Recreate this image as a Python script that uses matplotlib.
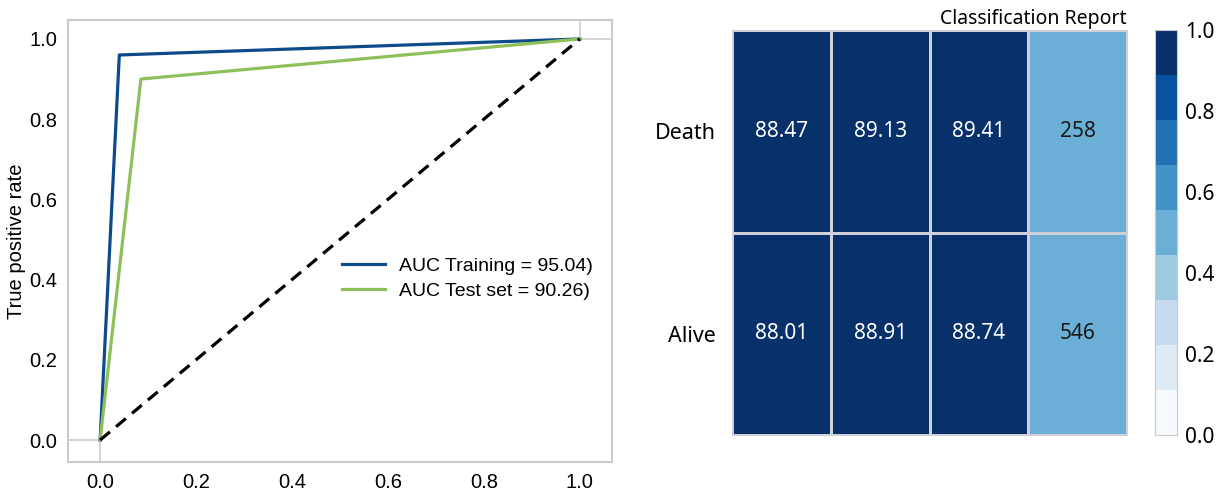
import numpy as np
import matplotlib
matplotlib.use("Agg")
import matplotlib.pyplot as plt

# ROC curves (false positive rate, true positive rate)
fpr_train = [0.0, 0.04, 1.0]
tpr_train = [0.0, 0.96, 1.0]
fpr_test = [0.0, 0.085, 1.0]
tpr_test = [0.0, 0.90, 1.0]
auc_train = 95.04
auc_test = 90.26

# Classification report
classes = ["Death", "Alive"]
scores = [["88.47", "89.13", "89.41", "258"],
          ["88.01", "88.91", "88.74", "546"]]
# colour level of each cell
levels = [[0.95, 0.95, 0.95, 0.50],
          [0.95, 0.95, 0.95, 0.50]]
cbar_ticks = [0.0, 0.2, 0.4, 0.6, 0.8, 1.0]

fig = plt.figure(figsize=(12.25, 4.9), dpi=100)

# ---- ROC panel ----
ax = fig.add_axes([0.0555, 0.057, 0.444, 0.902])
xlo, xhi = -0.067, 1.067
ylo, yhi = -0.055, 1.047
fx0 = (0 - xlo) / (xhi - xlo)
fx1 = (1 - xlo) / (xhi - xlo)
fy0 = (0 - ylo) / (yhi - ylo)
fy1 = (1 - ylo) / (yhi - ylo)
# short grid stubs at 0 and 1
ax.axvline(0, 0, fy0, color="#cccccc", lw=1.2, zorder=0)
ax.axhline(0, 0, fx0, color="#cccccc", lw=1.2, zorder=0)
ax.axvline(1, fy1, 1, color="#cccccc", lw=1.2, zorder=0)
ax.axhline(1, fx1, 1, color="#cccccc", lw=1.2, zorder=0)
ax.plot(fpr_train, tpr_train, color="#0d4a8a", lw=2.3,
        label=f"AUC Training = {auc_train:.2f})")
ax.plot(fpr_test, tpr_test, color="#8dc05b", lw=2.3,
        label=f"AUC Test set = {auc_test:.2f})")
ax.plot([0, 1], [0, 1], "k--", lw=2.3, dashes=(4, 2.5))
ax.set_xlim(xlo, xhi)
ax.set_ylim(ylo, yhi)
ax.set_xticks([0, 0.2, 0.4, 0.6, 0.8, 1.0])
ax.set_yticks([0, 0.2, 0.4, 0.6, 0.8, 1.0])
ax.tick_params(length=0, labelsize=14.5, pad=8)
for lab in ax.get_xticklabels() + ax.get_yticklabels():
    lab.set_family("Liberation Sans")
for s in ax.spines.values():
    s.set_color("#cccccc")
    s.set_linewidth(1.5)
ax.set_ylabel("True positive rate", fontsize=14.5, family="Liberation Sans",
              labelpad=2)
ax.legend(loc="center left", bbox_to_anchor=(0.472, 0.415), frameon=False,
          prop={"family": "Liberation Sans", "size": 14},
          handlelength=2.2, handletextpad=0.7, labelspacing=0.35)

# ---- Classification report heatmap ----
cmap = plt.get_cmap("Blues", 9)
hx = fig.add_axes([0.5976, 0.112, 0.3224, 0.827])
mesh = hx.pcolormesh(np.array(levels)[::-1], cmap=cmap, vmin=0, vmax=1,
                     edgecolors="#d0d0d8", linewidth=0.8)
for i, row in enumerate(scores):
    for j, txt in enumerate(row):
        col = "white" if levels[i][j] > 0.7 else "#1a1a1a"
        hx.text(j + 0.5, len(scores) - i - 0.5, txt, ha="center", va="center",
                color=col, fontsize=15, family="Noto Sans")
hx.set_xlim(0, 4)
hx.set_ylim(0, 2)
hx.set_xticks([])
hx.set_yticks([1.5, 0.5])
hx.set_yticklabels(classes, fontsize=15.5, family="Noto Sans",
                   fontweight="medium")
hx.tick_params(length=0, pad=12)
for s in hx.spines.values():
    s.set_color("#d0d0d8")
hx.set_title("Classification Report", loc="right", fontsize=14,
             family="Noto Sans", pad=4)

cx = fig.add_axes([0.9429, 0.112, 0.018, 0.827])
cb = fig.colorbar(mesh, cax=cx, ticks=cbar_ticks)
cb.outline.set_edgecolor("#c8c8c8")
cb.ax.tick_params(length=0, labelsize=15, pad=6)
for lab in cb.ax.get_yticklabels():
    lab.set_family("Noto Sans")

fig.savefig("out.png", dpi=100, facecolor="white")
